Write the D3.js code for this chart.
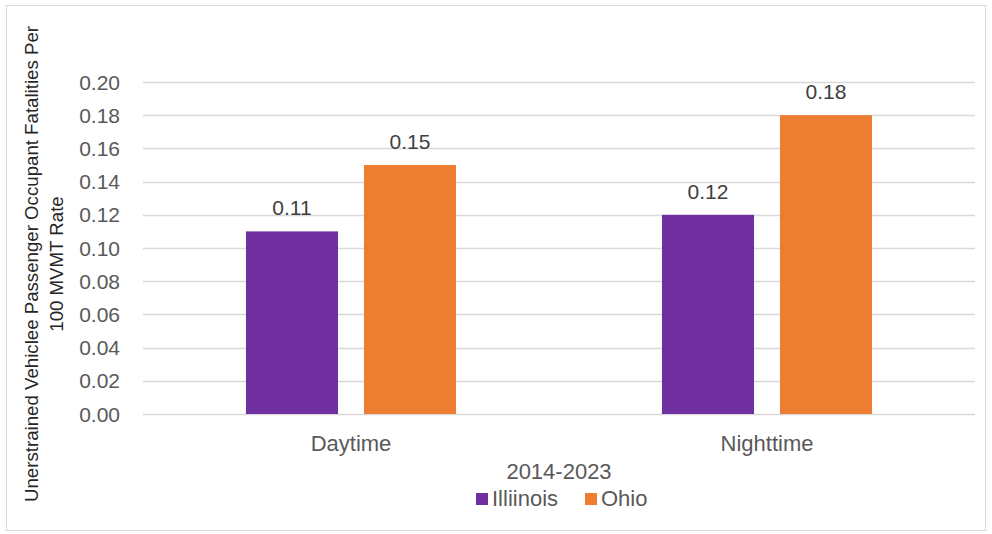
<!DOCTYPE html>
<html>
<head>
<meta charset="utf-8">
<script src="https://cdn.jsdelivr.net/npm/d3@7"></script>
<style>
  body { margin: 0; background: #fff; }
  svg text { font-family: "Liberation Sans", Arial, sans-serif; }
</style>
</head>
<body>
<div id="chart"></div>
<script>
const categories = ['Daytime', 'Nighttime'];
const seriesNames = ['Illiinois', 'Ohio'];
const illinois = [0.11, 0.12];
const ohio = [0.15, 0.18];
const yTicks = [0, 0.02, 0.04, 0.06, 0.08, 0.10, 0.12, 0.14, 0.16, 0.18, 0.20];
const colors = ['#7030a0', '#ed7d31'];

const W = 992, H = 534;

const svg = d3.select('#chart').append('svg')
  .attr('width', W)
  .attr('height', H);

// outer frame
svg.append('rect')
  .attr('x', 6.5).attr('y', 5.5)
  .attr('width', 979).attr('height', 525)
  .attr('fill', '#fff')
  .attr('stroke', '#d9d9d9');

const plot = { left: 143, right: 975, top: 82, bottom: 414 };

const x0 = d3.scaleBand()
  .domain(categories)
  .range([plot.left, plot.right]);

const x1 = d3.scaleBand()
  .domain(seriesNames)
  .range([0, x0.bandwidth()])
  .paddingInner(0.22)
  .paddingOuter(0.8725);

const y = d3.scaleLinear()
  .domain([0, 0.20])
  .range([plot.bottom, plot.top]);

// gridlines
svg.append('g')
  .selectAll('line')
  .data(yTicks)
  .join('line')
  .attr('x1', plot.left).attr('x2', plot.right)
  .attr('y1', d => Math.round(y(d)) + 0.5)
  .attr('y2', d => Math.round(y(d)) + 0.5)
  .attr('stroke', '#d9d9d9')
  .attr('stroke-width', 1.3);

// y tick labels
svg.append('g')
  .selectAll('text')
  .data(yTicks)
  .join('text')
  .attr('x', 120)
  .attr('y', d => y(d) + 7.5)
  .attr('text-anchor', 'end')
  .attr('fill', '#595959')
  .style('font-size', '21px')
  .text(d => d3.format('.2f')(d));

const rows = categories.map((c, i) => ({ cat: c, vals: [illinois[i], ohio[i]] }));

const groups = svg.append('g')
  .selectAll('g')
  .data(rows)
  .join('g')
  .attr('transform', d => `translate(${x0(d.cat)},0)`);

groups.selectAll('rect')
  .data(d => d.vals.map((v, i) => ({ name: seriesNames[i], v, i })))
  .join('rect')
  .attr('x', d => x1(d.name))
  .attr('y', d => y(d.v))
  .attr('width', x1.bandwidth())
  .attr('height', d => y(0) - y(d.v))
  .attr('fill', d => colors[d.i]);

groups.selectAll('text.lbl')
  .data(d => d.vals.map((v, i) => ({ name: seriesNames[i], v, i })))
  .join('text')
  .attr('class', 'lbl')
  .attr('x', d => x1(d.name) + x1.bandwidth() / 2)
  .attr('y', d => y(d.v) - 16)
  .attr('text-anchor', 'middle')
  .attr('fill', '#404040')
  .style('font-size', '21px')
  .text(d => d3.format('.2f')(d.v));

// category labels
svg.append('g')
  .selectAll('text')
  .data(categories)
  .join('text')
  .attr('x', d => x0(d) + x0.bandwidth() / 2)
  .attr('y', 451)
  .attr('text-anchor', 'middle')
  .attr('fill', '#595959')
  .style('font-size', '22px')
  .text(d => d);

// x axis title
svg.append('text')
  .attr('x', (plot.left + plot.right) / 2)
  .attr('y', 479)
  .attr('text-anchor', 'middle')
  .attr('fill', '#595959')
  .style('font-size', '22px')
  .text('2014-2023');

// legend
const legend = svg.append('g');
const legendX = [476, 585];
seriesNames.forEach((name, i) => {
  legend.append('rect')
    .attr('x', legendX[i]).attr('y', 493)
    .attr('width', 12).attr('height', 12)
    .attr('fill', colors[i]);
  legend.append('text')
    .attr('x', legendX[i] + 16)
    .attr('y', 506)
    .attr('fill', '#595959')
    .style('font-size', '22px')
    .text(name);
});

// y axis title, sized so the first line spans about the same height as the reference
const yTitle = svg.append('text')
  .attr('transform', 'translate(0,264) rotate(-90)')
  .attr('text-anchor', 'middle')
  .attr('fill', '#262626')
  .style('font-size', '18px');
const t1 = yTitle.append('tspan').attr('x', 0).attr('y', 38).text('Unerstrained Vehiclee Passenger Occupant Fatalities Per');
yTitle.append('tspan').attr('x', 0).attr('y', 63).text('100 MVMT Rate');
const len = t1.node().getComputedTextLength();
if (len > 0) yTitle.style('font-size', (18 * 476 / len).toFixed(2) + 'px');
</script>
</body>
</html>
